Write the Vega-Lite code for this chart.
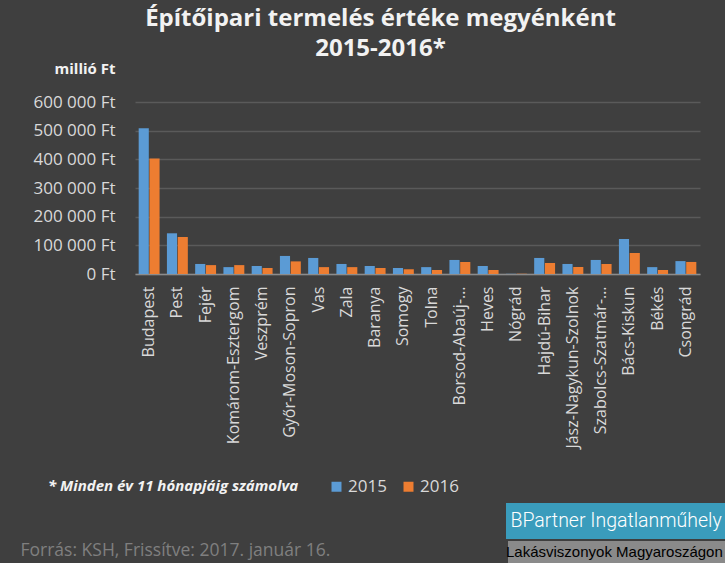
{
  "$schema": "https://vega.github.io/schema/vega-lite/v6.json",
  "width": 565,
  "height": 172,
  "autosize": "none",
  "padding": {"left": 135, "top": 102, "right": 25, "bottom": 289},
  "background": "#3f3f3f",
  "title": {
    "text": ["Építőipari termelés értéke megyénként", "2015-2016*"],
    "font": "Open Sans",
    "fontSize": 24,
    "fontWeight": "bold",
    "color": "#f2f2f2",
    "anchor": "middle",
    "dx": -37,
    "lineHeight": 30,
    "offset": 0
  },
  "config": {
    "locale": {"number": {"decimal": ",", "thousands": " ", "grouping": [3], "currency": ["", " Ft"]}},
    "view": {"stroke": null},
    "font": "Open Sans"
  },
  "data": {
    "values": [
      {"megye": "Budapest", "ev": "2015", "ertek": 508000},
      {"megye": "Budapest", "ev": "2016", "ertek": 403000},
      {"megye": "Pest", "ev": "2015", "ertek": 142000},
      {"megye": "Pest", "ev": "2016", "ertek": 129000},
      {"megye": "Fejér", "ev": "2015", "ertek": 35000},
      {"megye": "Fejér", "ev": "2016", "ertek": 31000},
      {"megye": "Komárom-Esztergom", "ev": "2015", "ertek": 24000},
      {"megye": "Komárom-Esztergom", "ev": "2016", "ertek": 31000},
      {"megye": "Veszprém", "ev": "2015", "ertek": 28000},
      {"megye": "Veszprém", "ev": "2016", "ertek": 21000},
      {"megye": "Győr-Moson-Sopron", "ev": "2015", "ertek": 63000},
      {"megye": "Győr-Moson-Sopron", "ev": "2016", "ertek": 44000},
      {"megye": "Vas", "ev": "2015", "ertek": 56000},
      {"megye": "Vas", "ev": "2016", "ertek": 24000},
      {"megye": "Zala", "ev": "2015", "ertek": 35000},
      {"megye": "Zala", "ev": "2016", "ertek": 24000},
      {"megye": "Baranya", "ev": "2015", "ertek": 28000},
      {"megye": "Baranya", "ev": "2016", "ertek": 21000},
      {"megye": "Somogy", "ev": "2015", "ertek": 21000},
      {"megye": "Somogy", "ev": "2016", "ertek": 17000},
      {"megye": "Tolna", "ev": "2015", "ertek": 24000},
      {"megye": "Tolna", "ev": "2016", "ertek": 14000},
      {"megye": "Borsod-Abaúj-Zemplén", "ev": "2015", "ertek": 49000},
      {"megye": "Borsod-Abaúj-Zemplén", "ev": "2016", "ertek": 42000},
      {"megye": "Heves", "ev": "2015", "ertek": 28000},
      {"megye": "Heves", "ev": "2016", "ertek": 14000},
      {"megye": "Nógrád", "ev": "2015", "ertek": 600},
      {"megye": "Nógrád", "ev": "2016", "ertek": 1200},
      {"megye": "Hajdú-Bihar", "ev": "2015", "ertek": 56000},
      {"megye": "Hajdú-Bihar", "ev": "2016", "ertek": 38000},
      {"megye": "Jász-Nagykun-Szolnok", "ev": "2015", "ertek": 35000},
      {"megye": "Jász-Nagykun-Szolnok", "ev": "2016", "ertek": 24000},
      {"megye": "Szabolcs-Szatmár-Bereg", "ev": "2015", "ertek": 49000},
      {"megye": "Szabolcs-Szatmár-Bereg", "ev": "2016", "ertek": 35000},
      {"megye": "Bács-Kiskun", "ev": "2015", "ertek": 122000},
      {"megye": "Bács-Kiskun", "ev": "2016", "ertek": 73000},
      {"megye": "Békés", "ev": "2015", "ertek": 24000},
      {"megye": "Békés", "ev": "2016", "ertek": 14000},
      {"megye": "Csongrád", "ev": "2015", "ertek": 45000},
      {"megye": "Csongrád", "ev": "2016", "ertek": 42000}
    ]
  },
  "mark": {"type": "bar"},
  "encoding": {
    "x": {
      "field": "megye",
      "type": "nominal",
      "sort": null,
      "scale": {"paddingInner": 0.26, "paddingOuter": 0.13},
      "axis": {
        "labelAngle": 270,
        "labelFont": "Open Sans",
        "labelFontSize": 16,
        "labelColor": "#d9d9d9",
        "labelPadding": 12,
        "labelLimit": 300,
        "labelExpr": "datum.value == 'Borsod-Abaúj-Zemplén' ? 'Borsod-Abaúj-…' : datum.value == 'Szabolcs-Szatmár-Bereg' ? 'Szabolcs-Szatmár-…' : datum.value",
        "ticks": false,
        "domainColor": "#8c8c8c",
        "domainWidth": 1.5,
        "title": "Forrás: KSH, Frissítve: 2017. január 16.",
        "titleFont": "Open Sans",
        "titleFontSize": 17.5,
        "titleFontWeight": "normal",
        "titleColor": "#7f7f7f",
        "titleAlign": "left",
        "titleBaseline": "middle",
        "titleX": -115,
        "titleY": 276
      }
    },
    "xOffset": {"field": "ev", "type": "nominal", "scale": {"paddingInner": 0.06}},
    "y": {
      "field": "ertek",
      "type": "quantitative",
      "scale": {"domain": [0, 600000]},
      "axis": {
        "values": [0, 100000, 200000, 300000, 400000, 500000, 600000],
        "format": "$,.0f",
        "labelFont": "Open Sans",
        "labelFontSize": 17,
        "labelColor": "#d9d9d9",
        "labelPadding": 20,
        "domain": false,
        "ticks": false,
        "gridColor": "#5a5a5a",
        "gridWidth": 1.3,
        "title": "millió Ft",
        "titleAngle": 0,
        "titleAlign": "right",
        "titleBaseline": "middle",
        "titleX": -20,
        "titleY": -34,
        "titleFont": "Open Sans",
        "titleFontSize": 15,
        "titleFontWeight": "bold",
        "titleColor": "#f2f2f2"
      }
    },
    "color": {
      "field": "ev",
      "type": "nominal",
      "scale": {"domain": ["2015", "2016"], "range": ["#5b9bd5", "#ed7d31"]},
      "legend": {
        "orient": "none",
        "legendX": -87,
        "legendY": 376,
        "direction": "horizontal",
        "title": "* Minden év 11 hónapjáig számolva",
        "titleOrient": "left",
        "titleFont": "Open Sans",
        "titleFontSize": 15,
        "titleFontWeight": "bold",
        "titleFontStyle": "italic",
        "titleColor": "#f2f2f2",
        "titlePadding": 29,
        "titleLimit": 400,
        "symbolType": "square",
        "symbolSize": 100,
        "symbolStrokeWidth": 0,
        "labelFont": "Open Sans",
        "labelFontSize": 17,
        "labelColor": "#d9d9d9",
        "labelOffset": 3,
        "columnPadding": 13
      }
    },
    "opacity": {
      "datum": "BPartner Ingatlanműhely",
      "type": "ordinal",
      "scale": {"domain": ["BPartner Ingatlanműhely"], "range": [1, 1]},
      "legend": {
        "orient": "none",
        "legendX": 371,
        "legendY": 401,
        "title": null,
        "fillColor": "#3a9cbc",
        "padding": 8,
        "symbolSize": 0,
        "symbolStrokeWidth": 0,
        "labelOffset": -23,
        "labelFont": "Roboto",
        "labelFontWeight": 300,
        "labelFontSize": 19.5,
        "labelColor": "#ffffff",
        "labelLimit": 400
      }
    },
    "stroke": {
      "datum": "Lakásviszonyok Magyaroszágon",
      "type": "nominal",
      "scale": {"domain": ["Lakásviszonyok Magyaroszágon"], "range": ["transparent"]},
      "legend": {
        "orient": "none",
        "legendX": 373,
        "legendY": 439,
        "title": null,
        "fillColor": "#8a8a8a",
        "padding": 3,
        "symbolSize": 0,
        "symbolStrokeWidth": 0,
        "labelOffset": -20,
        "labelFont": "Liberation Sans",
        "labelFontSize": 15,
        "labelColor": "#000000",
        "labelLimit": 400
      }
    }
  }
}
